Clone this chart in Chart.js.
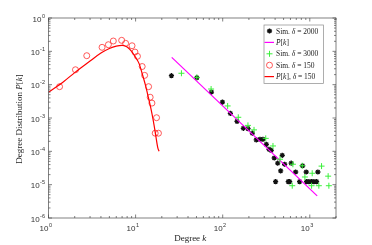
<!DOCTYPE html>
<html><head><meta charset="utf-8">
<script src="https://cdn.jsdelivr.net/npm/chart.js@4/dist/chart.umd.min.js"></script>
<style>html,body{margin:0;padding:0;background:#fff;}#wrap{width:372px;height:245px;}</style>
</head><body><div id="wrap"><canvas id="c" width="372" height="245"></canvas></div>
<script>
// ---- data ----
const blackK = [25.8, 50.5, 74.3, 99.3, 122.5, 146, 172.6, 195.5, 219, 243, 268, 290, 317, 340, 361, 391, 428, 463, 483, 514, 405, 566, 587, 612, 688, 764, 827, 910, 919, 977, 1049, 1115, 1197, 1238];
const blackP = [0.0186, 0.0162, 0.0060, 0.0030, 0.00138, 0.00079, 0.00049, 0.00048, 0.00035, 0.00022, 0.00023, 0.00023, 0.000162, 0.000115, 0.000107, 6.3e-5, 4.4e-5, 2.6e-5, 7.6e-5, 4.1e-5, 1.23e-5, 1.23e-5, 1.23e-5, 4.4e-5, 2.4e-5, 1.23e-5, 3.7e-5, 2.4e-5, 1.23e-5, 1.23e-5, 1.23e-5, 1.23e-5, 1.23e-5, 2.4e-5];
const greenK = [33.6, 50.5, 73.6, 114, 151, 195, 229, 312, 378, 455, 640, 629, 819, 879, 1066, 1049, 1271, 1365, 1625, 1656];
const greenP = [0.022, 0.0166, 0.0074, 0.0023, 0.00105, 0.0006, 0.00044, 0.000245, 0.000145, 5.8e-5, 4.1e-5, 9.3e-6, 3.7e-5, 1.7e-5, 2.2e-5, 9.3e-6, 9.3e-6, 3.6e-5, 1.8e-5, 9.3e-6];
const redK = [1.34, 2.04, 2.75, 4.12, 4.87, 5.55, 6.92, 7.68, 9.1, 9.84, 10.5, 11.9, 12.7, 14.1, 14.7, 15.4, 17.4, 16.8, 18.3];
const redP = [0.0087, 0.028, 0.074, 0.132, 0.158, 0.204, 0.214, 0.174, 0.147, 0.095, 0.071, 0.035, 0.019, 0.0087, 0.0042, 0.0028, 0.00102, 0.00035, 0.00035];
const redLineK = [1, 1.5, 2, 3, 4, 5, 6, 7, 8, 9, 10, 11, 12, 13, 14, 15, 16, 17, 18, 18.6];
const redLineP = [0.0059, 0.0125, 0.023, 0.051, 0.089, 0.122, 0.143, 0.15, 0.135, 0.1, 0.066, 0.042, 0.02, 0.0095, 0.0042, 0.0019, 0.0008, 0.00031, 0.000126, 0.0001];
const magK = [26, 1216];
const magP = [0.066, 4.6e-6];
const xTickVals = [1, 10, 100, 1000];
const yTickVals = [1e-6, 1e-5, 1e-4, 1e-3, 1e-2, 1e-1, 1];
const xExp = ['0', '1', '2', '3'];
const yExp = ['-6', '-5', '-4', '-3', '-2', '-1', '0'];
const legendLabels = [
  [['Sim. ', 'r'], ['δ', 'i'], [' = 2000', 'r']],
  [['P̄', 'i'], ['[', 'r'], ['k', 'i'], [']', 'r']],
  [['Sim. ', 'r'], ['δ', 'i'], [' = 3000', 'r']],
  [['Sim. ', 'r'], ['δ', 'i'], [' = 150', 'r']],
  [['P', 'i'], ['[', 'r'], ['k', 'i'], ['], ', 'r'], ['δ', 'i'], [' = 150', 'r']]
];

const pts = (ks, ps) => ks.map((k, i) => ({x: k, y: ps[i]}));

const SERIF = '"Liberation Serif", "DejaVu Serif", serif';
const SANS = '"Liberation Sans", Arial, sans-serif';

function drawSegs(ctx, segs, x, y, size) {
  let cx = x;
  for (const [t, s] of segs) {
    ctx.font = (s === 'i' ? 'italic ' : '') + size + 'px ' + SERIF;
    ctx.fillText(t, cx, y);
    cx += ctx.measureText(t).width;
  }
  return cx - x;
}
function segsWidth(ctx, segs, size) {
  let w = 0;
  for (const [t, s] of segs) {
    ctx.font = (s === 'i' ? 'italic ' : '') + size + 'px ' + SERIF;
    w += ctx.measureText(t).width;
  }
  return w;
}

const decor = {
  id: 'decor',
  afterDatasetsDraw(chart) {
    const ctx = chart.ctx, a = chart.chartArea;
    const xs = chart.scales.x, ys = chart.scales.y;
    ctx.save();
    ctx.strokeStyle = '#4a4a4a';
    ctx.lineWidth = 0.7;
    ctx.strokeRect(a.left, a.top, a.right - a.left, a.bottom - a.top);
    ctx.beginPath();
    for (let e = 0; e <= 3; e++) {
      for (let m = 1; m <= 9; m++) {
        const v = m * Math.pow(10, e);
        if (v > xs.max) break;
        const px = xs.getPixelForValue(v);
        const L = m === 1 ? 3.5 : 2;
        ctx.moveTo(px, a.bottom); ctx.lineTo(px, a.bottom - L);
        ctx.moveTo(px, a.top); ctx.lineTo(px, a.top + L);
      }
    }
    for (let e = -6; e <= 0; e++) {
      for (let m = 1; m <= 9; m++) {
        const v = m * Math.pow(10, e);
        if (v > ys.max) break;
        const py = ys.getPixelForValue(v);
        const L = m === 1 ? 3.5 : 2;
        ctx.moveTo(a.left, py); ctx.lineTo(a.left + L, py);
        ctx.moveTo(a.right, py); ctx.lineTo(a.right - L, py);
      }
    }
    ctx.stroke();

    // tick labels
    ctx.fillStyle = '#333';
    ctx.textBaseline = 'alphabetic';
    ctx.textAlign = 'left';
    xTickVals.forEach((v, i) => {
      const px = xs.getPixelForValue(v);
      ctx.font = '8px ' + SANS; const wb = ctx.measureText('10').width;
      ctx.font = '5.5px ' + SANS; const we = ctx.measureText(xExp[i]).width;
      const x0 = px - 3 - (wb + we) / 2;
      ctx.font = '8px ' + SANS; ctx.fillText('10', x0, a.bottom + 13);
      ctx.font = '5.5px ' + SANS; ctx.fillText(xExp[i], x0 + wb + 0.5, a.bottom + 9);
    });
    yTickVals.forEach((v, i) => {
      const py = ys.getPixelForValue(v);
      ctx.font = '5.5px ' + SANS; const we = ctx.measureText(yExp[i]).width;
      ctx.font = '8px ' + SANS; const wb = ctx.measureText('10').width;
      const xr = a.left - 3.5;
      ctx.font = '8px ' + SANS; ctx.fillText('10', xr - we - wb - 0.5, py + 3.5);
      ctx.font = '5.5px ' + SANS; ctx.fillText(yExp[i], xr - we, py - 0.5);
    });

    // axis titles
    ctx.fillStyle = '#222';
    const xt = [['Degree ', 'r'], ['k', 'i']];
    const wx = segsWidth(ctx, xt, 9);
    drawSegs(ctx, xt, (a.left + a.right) / 2 - wx / 2 - 2, 241, 9);
    const yt = [['Degree Distribution ', 'r'], ['P', 'i'], ['[', 'r'], ['k', 'i'], [']', 'r']];
    const wy = segsWidth(ctx, yt, 9);
    ctx.save();
    ctx.translate(22, (a.top + a.bottom) / 2 + 1);
    ctx.rotate(-Math.PI / 2);
    drawSegs(ctx, yt, -wy / 2, 0, 9);
    ctx.restore();

    // legend
    const lx = a.right - 72, ly = a.top + 7, lw = 59.5, lh = 58.5;
    ctx.fillStyle = '#fff';
    ctx.fillRect(lx, ly, lw, lh);
    ctx.strokeStyle = '#8a8a8a'; ctx.lineWidth = 0.7;
    ctx.strokeRect(lx, ly, lw, lh);
    chart.data.datasets.forEach((ds, r) => {
      const cy = ly + 6 + r * 11.4;
      const mx = lx + 5.5;
      if (ds.showLine) {
        ctx.strokeStyle = ds.borderColor; ctx.lineWidth = ds.borderWidth;
        ctx.beginPath(); ctx.moveTo(lx + 0.5, cy); ctx.lineTo(lx + 10, cy); ctx.stroke();
      } else {
        ctx.strokeStyle = ds.borderColor; ctx.fillStyle = ds.backgroundColor;
        ctx.lineWidth = ds.borderWidth;
        Chart.helpers.drawPoint(ctx, {pointStyle: ds.pointStyle, rotation: 0, radius: ds.pointRadius, borderWidth: ds.borderWidth}, mx, cy);
      }
      ctx.fillStyle = '#222';
      drawSegs(ctx, legendLabels[r], lx + 12, cy + 2.6, 7.5);
    });
    ctx.restore();
  }
};

new Chart(document.getElementById('c'), {
  type: 'scatter',
  data: {
    datasets: [
      {label: 'Sim. δ = 2000', data: pts(blackK, blackP), pointStyle: 'star', pointRadius: 2.6, borderWidth: 1.3,
       borderColor: '#111', backgroundColor: '#111', showLine: false, order: 5},
      {label: 'P̄[k]', data: pts(magK, magP), showLine: true, pointRadius: 0, borderColor: '#ff00ff', borderWidth: 1.2, order: 4},
      {label: 'Sim. δ = 3000', data: pts(greenK, greenP), pointStyle: 'cross', pointRadius: 3, borderWidth: 1,
       borderColor: '#3bf03b', backgroundColor: '#3bf03b', showLine: false, order: 3},
      {label: 'Sim. δ = 150', data: pts(redK, redP), pointStyle: 'circle', pointRadius: 3, borderWidth: 0.8,
       borderColor: '#ff3030', backgroundColor: 'rgba(0,0,0,0)', showLine: false, order: 2},
      {label: 'P[k], δ = 150', data: pts(redLineK, redLineP), showLine: true, pointRadius: 0, borderColor: '#ff0000',
       borderWidth: 1.2, cubicInterpolationMode: 'monotone', order: 1}
    ]
  },
  options: {
    responsive: false, animation: false, devicePixelRatio: 1,
    layout: {padding: {left: 0, right: 36, top: 18, bottom: 0}},
    plugins: {legend: {display: false}, tooltip: {enabled: false}},
    elements: {point: {hoverRadius: 0}},
    scales: {
      x: {type: 'logarithmic', min: 1, max: 2000, grid: {display: false}, border: {display: false},
          ticks: {display: false}, afterFit: s => { s.height = 27; }},
      y: {type: 'logarithmic', min: 1e-6, max: 1, grid: {display: false}, border: {display: false},
          ticks: {display: false}, afterFit: s => { s.width = 48.5; }}
    }
  },
  plugins: [decor]
});
</script></body></html>
